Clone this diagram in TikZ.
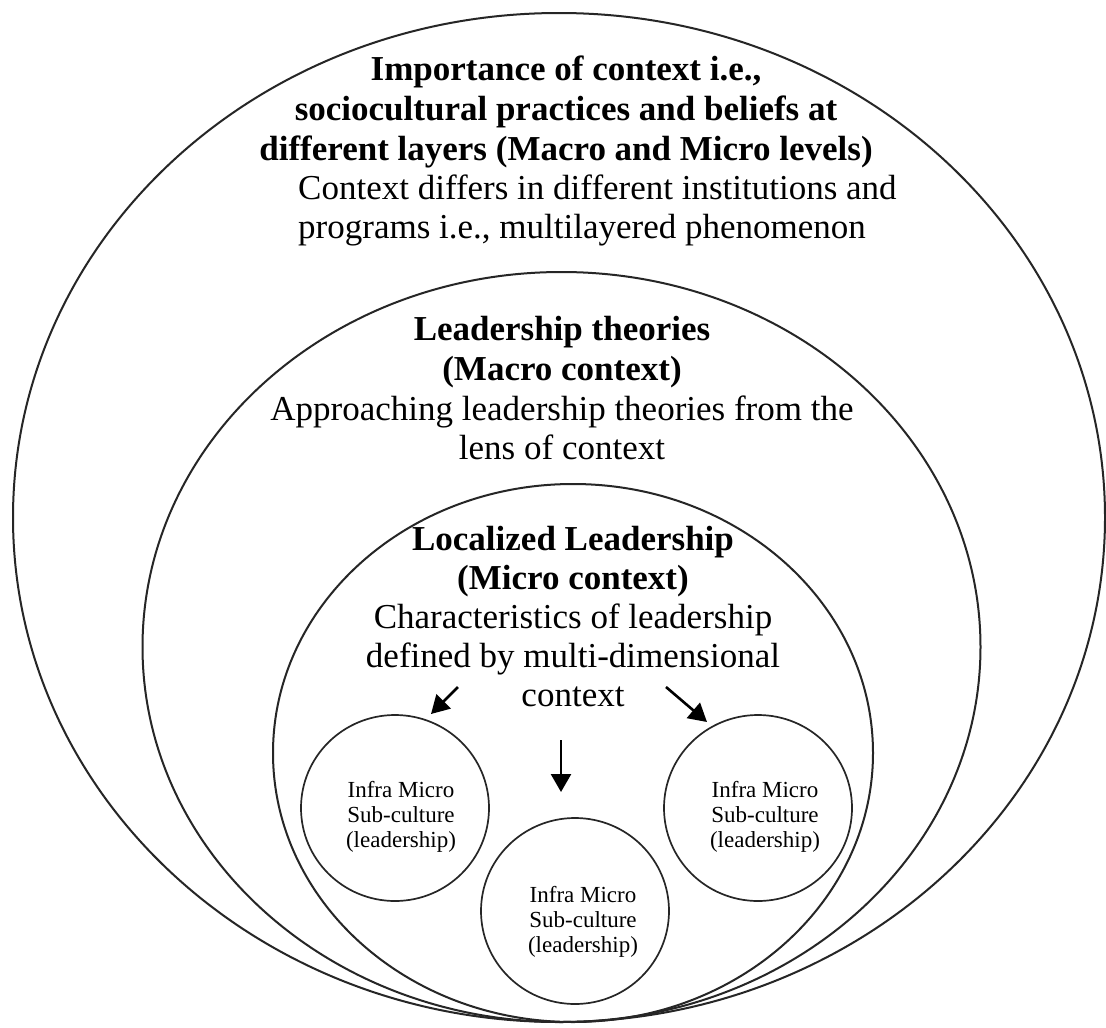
\documentclass[tikz,border=0pt]{standalone}
\usepackage{fontspec}
\setmainfont{Liberation Serif}
\usetikzlibrary{shapes.geometric,arrows.meta}
\begin{document}
\begin{tikzpicture}[x=1pt,y=-1pt,
  egg/.style={draw=black!85, line width=2pt, ellipse, inner sep=0pt},
  small/.style={draw=black!85, line width=1.7pt, ellipse, inner sep=0pt, minimum width=188pt, minimum height=186pt},
  bt/.style={font=\fontsize{35}{40}\selectfont\bfseries, anchor=base, inner sep=0pt},
  rt/.style={font=\fontsize{35}{40}\selectfont, anchor=base, inner sep=0pt},
  st/.style={font=\fontsize{23}{25}\selectfont, align=center, inner sep=0pt},
  arr/.style={line width=2.6pt, -{Triangle[length=18pt,width=20pt]}}]
\fill[white] (0,0) rectangle (1106,1028);
\useasboundingbox (0,0) rectangle (1106,1028);

% nested ellipses
\node[egg, minimum width=1092pt, minimum height=1009pt] (outer) at (559,517.5) {};
\node[egg, minimum width=838pt, minimum height=750pt] (middle) at (561.5,647) {};
\node[egg, minimum width=600pt, minimum height=538pt] (inner) at (573,753) {};

% outer texts
\node[bt] (o1) at (566,80) {Importance of context i.e.,};
\node[bt] (o2) at (566,120) {sociocultural practices and beliefs at};
\node[bt] (o3) at (566,160) {different layers (Macro and Micro levels)};
\node[rt, anchor=base west] (o4) at (298,199) {Context differs in different institutions and};
\node[rt, anchor=base west] (o5) at (298,238) {programs i.e., multilayered phenomenon};

% middle texts
\node[bt] (m1) at (562,340) {Leadership theories};
\node[bt] (m2) at (562,380) {(Macro context)};
\node[rt] (m3) at (562,420) {Approaching leadership theories from the};
\node[rt] (m4) at (562,459) {lens of context};

% inner texts
\node[bt] (i1) at (573,550) {Localized Leadership};
\node[bt] (i2) at (573,589) {(Micro context)};
\node[rt] (i3) at (573,628) {Characteristics of leadership};
\node[rt] (i4) at (573,667) {defined by multi-dimensional};
\node[rt] (i5) at (573,706) {context};

% small circles
\node[small] (cl) at (395,808) {};
\node[small] (cr) at (758,808) {};
\node[small] (cb) at (575,911) {};
\node[st] (tl) at (401,817) {Infra Micro\\Sub-culture\\(leadership)};
\node[st] (tr) at (765,817) {Infra Micro\\Sub-culture\\(leadership)};
\node[st] (tb) at (583,922) {Infra Micro\\Sub-culture\\(leadership)};

% arrows
\coordinate (al0) at (458,687);
\coordinate (al1) at (431,714);
\coordinate (ar0) at (666,687);
\coordinate (ar1) at (707,722);
\coordinate (am0) at (561,740);
\coordinate (am1) at (561,792);
\draw[arr] (al0) -- (al1);
\draw[arr] (ar0) -- (ar1);
\draw[arr] (am0) -- (am1);
\end{tikzpicture}
\end{document}
